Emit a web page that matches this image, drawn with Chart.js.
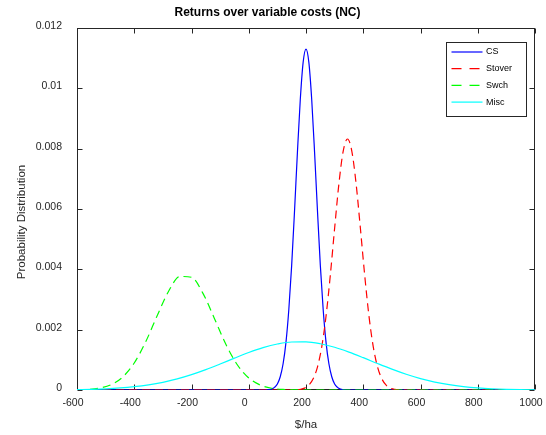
<!DOCTYPE html>
<html><head><meta charset="utf-8">
<script src="https://cdn.jsdelivr.net/npm/chart.js@4.4.1/dist/chart.umd.min.js"></script>
<style>html,body{margin:0;padding:0;background:#fff;}canvas{display:block;}</style>
</head><body>
<canvas id="c" width="546" height="435"></canvas>
<script>
const chartTitle = 'Returns over variable costs (NC)';
const xAxisTitle = '$/ha';
const yAxisTitle = 'Probability Distribution';
const seriesNames = ['CS', 'Stover', 'Swch', 'Misc'];
const xTickValues = [-600, -400, -200, 0, 200, 400, 600, 800, 1000];
const yTickValues = [0, 0.002, 0.004, 0.006, 0.008, 0.01, 0.012];

const csX = [-600, 60, 70, 80, 90, 100, 110, 120, 130, 140, 150, 160, 170, 180, 190, 200,
  210, 220, 230, 240, 250, 260, 270, 280, 290, 300, 310, 320, 330, 340, 1000];
const csY = [0, 0, 0.000013, 0.000035, 0.000088, 0.00020, 0.00044, 0.00087, 0.00158, 0.00267, 0.00414,
  0.00595, 0.00787, 0.00962, 0.01086, 0.0113, 0.01086, 0.00962, 0.00787, 0.00595, 0.00414,
  0.00267, 0.00158, 0.00087, 0.00044, 0.00020, 0.000088, 0.000035, 0.000013, 0, 0];

const stoverX = [-600, 150, 165, 180, 195, 210, 225, 240, 255, 270, 285, 300, 315, 330, 345,
  360, 375, 390, 405, 420, 435, 450, 465, 480, 495, 510, 525, 540, 1000];
const stoverY = [0, 0, 0.000007, 0.000023, 0.000063, 0.00016, 0.00037, 0.00076, 0.00143, 0.00245,
  0.00381, 0.00536, 0.00684, 0.00792, 0.00832, 0.00792, 0.00684, 0.00536, 0.00381, 0.00245,
  0.00143, 0.00076, 0.00037, 0.00016, 0.000063, 0.000023, 0.000007, 0, 0];

const swchX = [-600, -560, -520, -480, -440, -400, -360, -320, -280, -240, -200, -160, -120,
  -80, -40, 0, 40, 80, 120, 160, 200, 1000];
const swchY = [0.0000055, 0.0000204, 0.0000655, 0.000181, 0.000434, 0.000895, 0.001598, 0.002461,
  0.003275, 0.003764, 0.003736, 0.003203, 0.002372, 0.001517, 0.000838, 0.000400, 0.000165,
  0.0000587, 0.000018, 0.0000048, 0, 0];

const miscX = [-600, -550, -500, -450, -400, -350, -300, -250, -200, -150, -100, -50, 0, 50,
  100, 150, 200, 250, 300, 350, 400, 450, 500, 550, 600, 650, 700, 750, 800, 850, 900, 950, 1000];
const miscY = [0.0000123, 0.0000225, 0.0000397, 0.0000672, 0.000109, 0.000170, 0.000255, 0.000368,
  0.000509, 0.000675, 0.000862, 0.001056, 0.001243, 0.001405, 0.001525, 0.001591, 0.001593,
  0.001533, 0.001416, 0.001257, 0.001072, 0.000877, 0.000690, 0.000521, 0.000378, 0.000263,
  0.000176, 0.000113, 0.0000699, 0.0000415, 0.0000236, 0.0000129, 0.0000068];

const FONT = "'Liberation Sans', Arial, Helvetica, sans-serif";
const AXIS_COLOR = '#262626';

function pts(xs, ys) { return xs.map((x, i) => ({ x: x, y: ys[i] })); }

const styles = [
  { color: '#0000ff', dash: [] },
  { color: '#ff0000', dash: [8, 5] },
  { color: '#00ff00', dash: [8, 5] },
  { color: '#00ffff', dash: [] }
];
const seriesData = [pts(csX, csY), pts(stoverX, stoverY), pts(swchX, swchY), pts(miscX, miscY)];

const datasets = seriesNames.map((name, i) => ({
  label: name,
  data: seriesData[i],
  borderColor: styles[i].color,
  backgroundColor: styles[i].color,
  borderDash: styles[i].dash,
  borderWidth: 1.2,
  pointRadius: 0,
  fill: false,
  cubicInterpolationMode: 'monotone',
  order: 4 - i
}));

const framePlugin = {
  id: 'frame',
  beforeDatasetsDraw(chart) {
    const { ctx, chartArea: a, scales: { x, y } } = chart;
    ctx.save();
    ctx.strokeStyle = AXIS_COLOR;
    ctx.lineWidth = 1;
    const L = Math.round(a.left) + 0.5, R = Math.round(a.right) - 0.5;
    const T = Math.round(a.top) + 0.5, B = Math.round(a.bottom) - 0.5;
    ctx.strokeRect(L, T, R - L, B - T);
    const len = 5;
    ctx.beginPath();
    x.ticks.forEach(t => {
      const px = Math.round(x.getPixelForValue(t.value)) + 0.5;
      ctx.moveTo(px, B); ctx.lineTo(px, B - len);
      ctx.moveTo(px, T); ctx.lineTo(px, T + len);
    });
    y.ticks.forEach(t => {
      const py = Math.round(y.getPixelForValue(t.value)) + 0.5;
      ctx.moveTo(L, py); ctx.lineTo(L + len, py);
      ctx.moveTo(R, py); ctx.lineTo(R - len, py);
    });
    ctx.stroke();
    // y axis title (placed slightly below the axis centre, as in the reference)
    ctx.save();
    ctx.translate(21.7, (a.top + a.bottom) / 2 + 13);
    ctx.rotate(-Math.PI / 2);
    ctx.fillStyle = AXIS_COLOR;
    ctx.font = '11.5px ' + FONT;
    ctx.textAlign = 'center';
    ctx.textBaseline = 'middle';
    ctx.fillText(yAxisTitle, 0, 0);
    ctx.restore();
    ctx.restore();
  }
};

const legendPlugin = {
  id: 'boxLegend',
  afterDatasetsDraw(chart) {
    const { ctx, chartArea: a } = chart;
    const w = 80, h = 74;
    const left = Math.round(a.right - 9 - w) + 0.5;
    const top = Math.round(a.top + 14) + 0.5;
    ctx.save();
    ctx.fillStyle = '#ffffff';
    ctx.fillRect(left, top, w, h);
    ctx.strokeStyle = AXIS_COLOR;
    ctx.lineWidth = 1;
    ctx.setLineDash([]);
    ctx.strokeRect(left, top, w, h);
    ctx.font = '9px ' + FONT;
    ctx.textBaseline = 'middle';
    ctx.textAlign = 'left';
    chart.data.datasets.forEach((ds, i) => {
      const cy = top + 9.5 + i * 16.7;
      ctx.strokeStyle = ds.borderColor;
      ctx.lineWidth = 1.2;
      ctx.setLineDash(ds.borderDash.length ? [10, 8] : []);
      ctx.beginPath();
      ctx.moveTo(left + 5, cy);
      ctx.lineTo(left + 36, cy);
      ctx.stroke();
      ctx.setLineDash([]);
      ctx.fillStyle = '#000000';
      ctx.fillText(ds.label, left + 39.5, cy);
    });
    ctx.restore();
  }
};

new Chart(document.getElementById('c'), {
  type: 'line',
  data: { datasets: datasets },
  options: {
    responsive: false,
    animation: false,
    devicePixelRatio: 1,
    layout: { padding: { left: 0, right: 11, top: 0, bottom: 0 } },
    plugins: {
      legend: { display: false },
      tooltip: { enabled: false },
      title: {
        display: true,
        text: chartTitle,
        color: '#000000',
        font: { family: FONT, size: 12, weight: 'bold', lineHeight: 1.2 },
        padding: { top: 5.8, bottom: 7.8 }
      }
    },
    scales: {
      x: {
        type: 'linear',
        min: -600, max: 1000,
        afterBuildTicks: s => { s.ticks = xTickValues.map(v => ({ value: v })); },
        afterFit: s => { s.height = 45; s.paddingLeft = 0; s.paddingRight = 0; },
        grid: { display: false, drawTicks: false },
        border: { display: false },
        ticks: {
          color: AXIS_COLOR, padding: 7, labelOffset: -4, maxRotation: 0, autoSkip: false,
          font: { family: FONT, size: 10.5 },
          callback: v => String(v)
        },
        title: {
          display: true, text: xAxisTitle, color: AXIS_COLOR,
          font: { family: FONT, size: 11.5, lineHeight: 1.2 },
          padding: { top: 0, bottom: 3 }
        }
      },
      y: {
        type: 'linear',
        min: 0, max: 0.012,
        afterBuildTicks: s => { s.ticks = yTickValues.map(v => ({ value: v })); },
        afterFit: s => { s.width = 77; s.paddingTop = 0; s.paddingBottom = 0; },
        grid: { display: false, drawTicks: false },
        border: { display: false },
        ticks: {
          color: AXIS_COLOR, padding: 15, labelOffset: -2, autoSkip: false,
          font: { family: FONT, size: 10.5 },
          callback: v => String(v)
        },
        title: { display: false }
      }
    }
  },
  plugins: [framePlugin, legendPlugin]
});
</script>
</body></html>
